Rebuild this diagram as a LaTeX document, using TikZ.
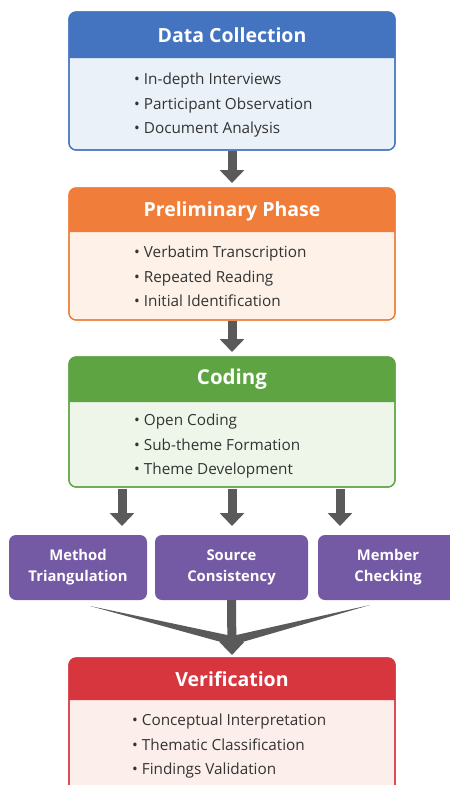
\documentclass[tikz,border=0pt]{standalone}
\usepackage{fontspec}
\setmainfont{Open Sans}
\usetikzlibrary{arrows.meta}
\definecolor{bluehd}{HTML}{4474C0}
\definecolor{bluebd}{HTML}{EAF1F8}
\definecolor{orhd}{HTML}{F07E3A}
\definecolor{orbd}{HTML}{FDF1E8}
\definecolor{grhd}{HTML}{5FA443}
\definecolor{grbd}{HTML}{EEF6EA}
\definecolor{rdhd}{HTML}{D8363F}
\definecolor{rdbd}{HTML}{FCEEEA}
\definecolor{purp}{HTML}{7459A4}
\definecolor{arr}{HTML}{5A5A5A}
\definecolor{txt}{HTML}{333333}
\tikzset{
  phasebox/.style={draw=#1, line width=1.2pt, rounded corners=7pt, minimum width=326pt, inner sep=0pt},
  hdtext/.style={text=white, font=\bfseries\fontsize{19.5}{22}\selectfont},
  bdtext/.style={text=txt, font=\fontsize{15.3}{24.3}\selectfont, align=left, inner sep=0pt},
  vbox/.style={fill=purp, rounded corners=7pt, text=white, font=\bfseries\fontsize{14.8}{21}\selectfont, align=center, minimum height=65pt, inner sep=0pt},
  blockarrow/.style={draw=arr, line width=9pt, -{Triangle[width=24pt,length=13pt]}, shorten >=0pt},
}
\newcommand{\header}[4]{% name, colour, top y, bottom y
  \fill[#2] (69,#4) [rounded corners=7pt] -- (69,#3) -- (395,#3) [sharp corners] -- (395,#4) -- cycle;
}
\begin{document}
\begin{tikzpicture}[x=1pt,y=-1pt]
\useasboundingbox (0,0) rectangle (450,785);
\clip (0,0) rectangle (450,785);
\fill[white] (0,0) rectangle (450,785);

% Data Collection
\node[phasebox=bluehd, fill=bluebd, minimum height=138pt] (dc) at (232,81) {};
\header{dch}{bluehd}{12}{58}
\draw[bluehd, line width=1.2pt, rounded corners=7pt] (69,12) rectangle (395,150);
\node[hdtext] (dchead) at (232,35) {Data Collection};
\node[bdtext, anchor=north west] (dcbody) at (134,73) {•\ In-depth Interviews\\•\ Participant Observation\\•\ Document Analysis};

% Preliminary
\node[phasebox=orhd, fill=orbd, minimum height=132pt] (pp) at (232,254) {};
\header{pph}{orhd}{188}{232}
\draw[orhd, line width=1.2pt, rounded corners=7pt] (69,188) rectangle (395,320);
\node[hdtext] (pphead) at (232,211) {Preliminary Phase};
\node[bdtext, anchor=north west] (ppbody) at (134,246) {•\ Verbatim Transcription\\•\ Repeated Reading\\•\ Initial Identification};

% Coding
\node[phasebox=grhd, fill=grbd, minimum height=130pt] (cd) at (232,422) {};
\header{cdh}{grhd}{357}{402}
\draw[grhd, line width=1.2pt, rounded corners=7pt] (69,357) rectangle (395,487);
\node[hdtext, font=\bfseries\fontsize{20.5}{22}\selectfont] (cdhead) at (232,379) {Coding};
\node[bdtext, anchor=north west] (cdbody) at (134,414) {•\ Open Coding\\•\ Sub-theme Formation\\•\ Theme Development};

% Verification
\node[phasebox=rdhd, fill=rdbd, minimum height=134pt] (vf) at (232,725) {};
\header{vfh}{rdhd}{658}{700}
\draw[rdhd, line width=1.2pt, rounded corners=7pt] (69,658) rectangle (395,792);
\node[hdtext] (vfhead) at (232,679) {Verification};
\node[bdtext, anchor=north west] (vfbody) at (132,714) {•\ Conceptual Interpretation\\•\ Thematic Classification\\•\ Findings Validation};

% Purple boxes
\node[vbox, minimum width=138pt] (mt) at (78,567.5) {Method\\Triangulation};
\node[vbox, minimum width=153pt] (sc) at (231.5,567.5) {Source\\Consistency};
\node[vbox, minimum width=140pt] (mc) at (388,567.5) {Member\\Checking};

% Arrows between phases
\coordinate (a1e) at (232,183);
\draw[blockarrow] (dc.south) -- (a1e);
\coordinate (a2e) at (232,352);
\draw[blockarrow] (pp.south) -- (a2e);

% Arrows from coding to purple boxes
\coordinate (c1s) at (122,489);
\coordinate (c1e) at (122,526);
\coordinate (c2s) at (232,489);
\coordinate (c2e) at (232,526);
\coordinate (c3s) at (340,489);
\coordinate (c3e) at (340,526);
\draw[blockarrow] (c1s) -- (c1e);
\draw[blockarrow] (c2s) -- (c2e);
\draw[blockarrow] (c3s) -- (c3e);

% Converging wedges
\fill[arr] (90,606) -- (232,636) -- (232,645) -- cycle;
\fill[arr] (370,605) -- (232,636) -- (232,645) -- cycle;
\coordinate (vfe) at (232,655);
\draw[blockarrow] (sc.south) -- (vfe);
\end{tikzpicture}
\end{document}
